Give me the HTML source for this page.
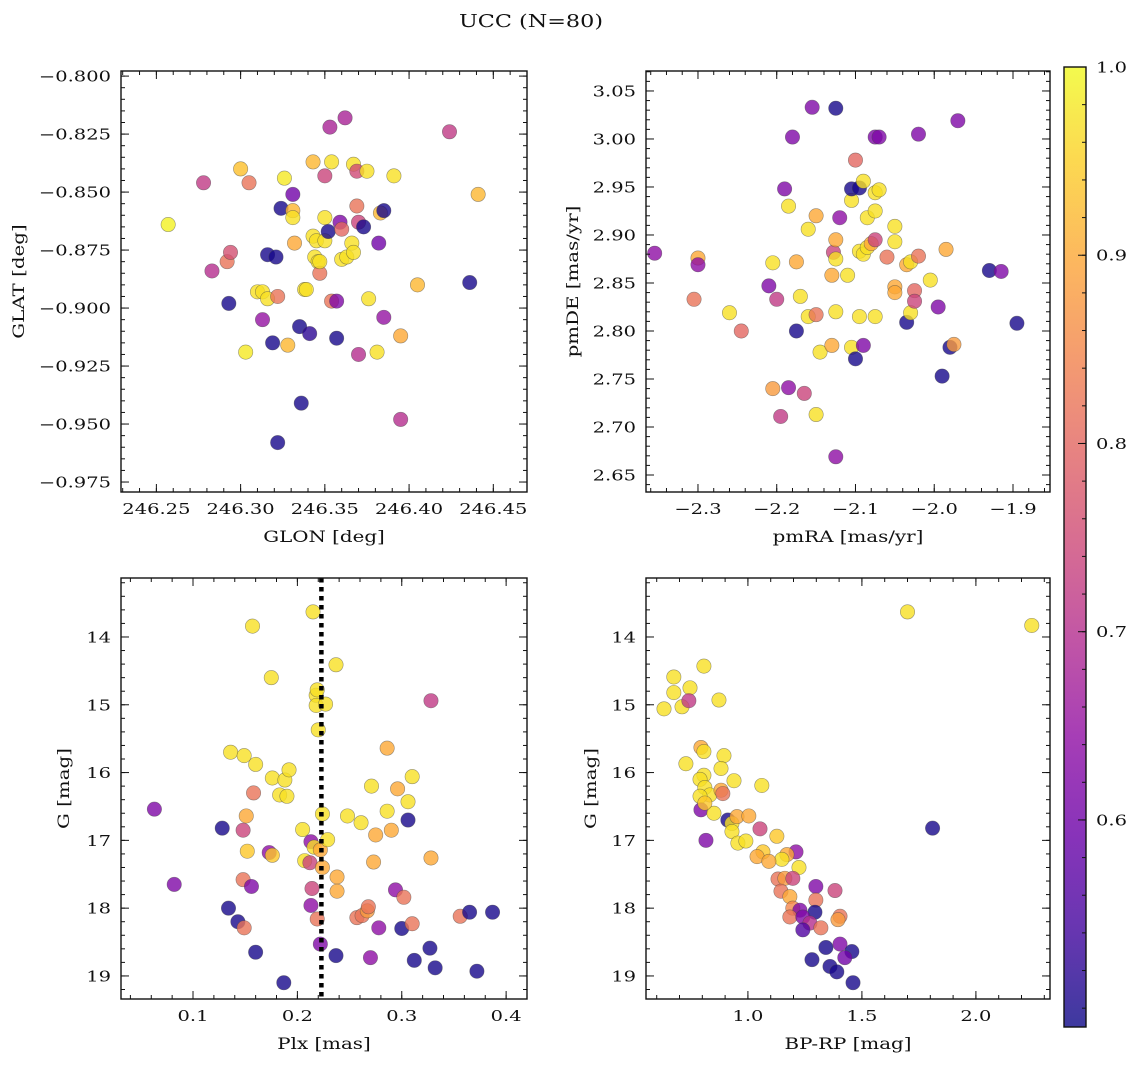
<!DOCTYPE html>
<html><head><meta charset="utf-8">
<style>
html,body{margin:0;padding:0;background:#fff;}
svg{display:block;font-family:"DejaVu Serif","Liberation Serif",serif;}
</style></head>
<body>
<svg id="fig" width="1136" height="1067" viewBox="0 0 1136 1067" xmlns="http://www.w3.org/2000/svg">
<rect width="1136" height="1067" fill="#fff"/>
<text transform="translate(531,27) scale(1.24,1)" font-size="18" text-anchor="middle" fill="#111">UCC (N=80)</text>
</svg>
<script>
// ---------- data ----------
const tlGlon=[246.257,246.278,246.283,246.292,246.294,246.293,246.300,246.305,246.303,246.310,246.313,246.316,246.313,246.316,246.321,246.319,246.322,246.324,246.326,246.328,246.331,246.331,246.331,246.332,246.335,246.338,246.339,246.343,246.341,246.336,246.322,246.343,246.344,246.345,246.346,246.347,246.347,246.350,246.350,246.352,246.350,246.353,246.354,246.354,246.357,246.357,246.359,246.360,246.362,246.360,246.363,246.366,246.367,246.367,246.369,246.369,246.370,246.373,246.370,246.375,246.376,246.382,246.381,246.383,246.385,246.385,246.391,246.395,246.395,246.405,246.424,246.436,246.441];
const tlGlat=[-0.864,-0.846,-0.884,-0.880,-0.876,-0.898,-0.840,-0.846,-0.919,-0.893,-0.893,-0.896,-0.905,-0.877,-0.878,-0.915,-0.895,-0.857,-0.844,-0.916,-0.858,-0.861,-0.851,-0.872,-0.908,-0.892,-0.892,-0.837,-0.911,-0.941,-0.958,-0.869,-0.878,-0.871,-0.880,-0.885,-0.880,-0.871,-0.861,-0.867,-0.843,-0.822,-0.837,-0.897,-0.897,-0.913,-0.863,-0.866,-0.818,-0.879,-0.878,-0.872,-0.876,-0.838,-0.856,-0.841,-0.863,-0.865,-0.920,-0.841,-0.896,-0.872,-0.919,-0.859,-0.858,-0.904,-0.843,-0.912,-0.948,-0.890,-0.824,-0.889,-0.851];
const tlProb=[0.99,0.72,0.70,0.82,0.76,0.50,0.93,0.82,0.98,0.97,0.97,0.97,0.65,0.50,0.50,0.50,0.82,0.50,0.98,0.92,0.92,0.97,0.60,0.90,0.50,0.97,0.97,0.92,0.52,0.50,0.50,0.97,0.97,0.97,0.97,0.82,0.97,0.97,0.97,0.50,0.74,0.68,0.97,0.82,0.62,0.50,0.62,0.80,0.68,0.97,0.97,0.97,0.97,0.97,0.82,0.75,0.74,0.50,0.70,0.97,0.97,0.60,0.97,0.92,0.50,0.65,0.97,0.90,0.70,0.92,0.72,0.50,0.92];

const trPmra=[-2.355,-2.300,-2.300,-2.305,-2.260,-2.245,-2.210,-2.205,-2.200,-2.205,-2.195,-2.190,-2.185,-2.185,-2.175,-2.180,-2.170,-2.175,-2.165,-2.160,-2.160,-2.155,-2.150,-2.150,-2.150,-2.145,-2.130,-2.130,-2.128,-2.125,-2.125,-2.125,-2.125,-2.125,-2.120,-2.110,-2.105,-2.105,-2.100,-2.105,-2.100,-2.095,-2.095,-2.095,-2.090,-2.090,-2.090,-2.085,-2.085,-2.080,-2.075,-2.075,-2.070,-2.075,-2.075,-2.075,-2.070,-2.060,-2.050,-2.050,-2.050,-2.050,-2.035,-2.035,-2.030,-2.030,-2.025,-2.025,-2.020,-2.020,-2.005,-1.995,-1.990,-1.985,-1.980,-1.975,-1.970,-1.930,-1.915,-1.895];
const trPmde=[2.881,2.876,2.869,2.833,2.819,2.800,2.847,2.871,2.833,2.740,2.711,2.948,2.741,2.930,2.872,3.002,2.836,2.800,2.735,2.815,2.906,3.033,2.920,2.817,2.713,2.778,2.858,2.785,2.882,2.895,2.875,2.820,2.669,3.032,2.918,2.858,2.936,2.783,2.771,2.948,2.978,2.949,2.883,2.815,2.956,2.880,2.785,2.918,2.887,2.891,2.895,3.002,3.002,2.944,2.925,2.815,2.947,2.877,2.909,2.893,2.846,2.840,2.869,2.809,2.872,2.819,2.842,2.831,2.878,3.005,2.853,2.825,2.753,2.885,2.783,2.786,3.019,2.863,2.862,2.808];
const trProb=[0.64,0.90,0.64,0.82,0.97,0.80,0.62,0.97,0.72,0.88,0.72,0.62,0.64,0.97,0.90,0.62,0.97,0.50,0.74,0.97,0.97,0.62,0.90,0.82,0.97,0.97,0.90,0.90,0.74,0.90,0.97,0.97,0.64,0.50,0.64,0.97,0.97,0.97,0.50,0.50,0.80,0.50,0.97,0.97,0.97,0.97,0.62,0.97,0.97,0.90,0.74,0.62,0.62,0.97,0.97,0.97,0.97,0.82,0.97,0.97,0.90,0.90,0.90,0.50,0.97,0.97,0.80,0.74,0.82,0.62,0.97,0.62,0.50,0.90,0.50,0.88,0.62,0.50,0.62,0.50];

const blPlx=[0.063,0.082,0.128,0.134,0.136,0.143,0.149,0.149,0.151,0.148,0.148,0.152,0.156,0.160,0.157,0.158,0.160,0.173,0.176,0.176,0.175,0.183,0.188,0.190,0.192,0.187,0.205,0.207,0.212,0.214,0.213,0.213,0.215,0.216,0.218,0.219,0.220,0.219,0.222,0.222,0.224,0.224,0.218,0.227,0.229,0.237,0.237,0.238,0.238,0.248,0.257,0.262,0.261,0.267,0.268,0.270,0.271,0.275,0.273,0.278,0.286,0.286,0.290,0.296,0.294,0.300,0.302,0.306,0.306,0.310,0.310,0.312,0.327,0.328,0.328,0.332,0.356,0.365,0.372,0.387];
const blG=[16.54,17.65,16.82,18.00,15.70,18.20,18.29,15.75,16.64,17.58,16.85,17.16,17.68,18.65,13.84,16.30,15.88,17.18,17.22,16.08,14.60,16.33,16.11,16.35,15.96,19.10,16.84,17.30,17.33,17.71,17.02,17.96,13.63,17.10,14.86,14.78,15.37,18.16,18.53,17.14,16.61,17.40,15.01,14.99,16.99,14.41,18.70,17.54,17.75,16.64,18.14,18.11,16.74,18.04,17.98,18.73,16.20,16.92,17.32,18.29,15.64,16.57,16.85,16.24,17.73,18.30,17.84,16.70,16.43,16.06,18.23,18.77,18.59,14.94,17.26,18.88,18.12,18.06,18.93,18.06];
const blProb=[0.62,0.62,0.50,0.50,0.97,0.50,0.82,0.97,0.90,0.82,0.74,0.94,0.62,0.50,0.97,0.82,0.97,0.64,0.94,0.97,0.97,0.97,0.97,0.97,0.97,0.50,0.97,0.97,0.74,0.74,0.64,0.64,0.97,0.97,0.97,0.97,0.97,0.82,0.62,0.90,0.97,0.90,0.97,0.97,0.97,0.97,0.50,0.90,0.90,0.97,0.82,0.82,0.97,0.88,0.82,0.64,0.97,0.90,0.90,0.64,0.90,0.97,0.90,0.90,0.64,0.50,0.82,0.50,0.97,0.97,0.82,0.50,0.50,0.72,0.90,0.50,0.82,0.50,0.50,0.50];

const brBprp=[0.632,0.675,0.675,0.746,0.711,0.741,0.807,0.873,0.728,0.794,0.807,0.895,0.882,0.939,1.061,0.807,0.790,0.811,0.833,0.790,0.794,0.851,0.811,0.882,0.890,0.816,0.912,0.930,0.952,1.004,0.930,0.956,0.991,1.053,1.127,1.066,1.040,1.211,1.171,1.149,1.092,1.224,1.132,1.162,1.197,1.298,1.382,1.145,1.184,1.298,1.197,1.228,1.294,1.184,1.241,1.272,1.241,1.320,1.404,1.395,1.342,1.404,1.456,1.425,1.281,1.360,1.390,1.461,1.810,1.700,2.245];
const brG=[15.06,14.59,14.82,14.75,15.03,14.94,14.43,14.93,15.87,15.63,15.69,15.75,15.94,16.12,16.19,16.04,16.10,16.22,16.33,16.35,16.55,16.60,16.45,16.26,16.31,17.00,16.70,16.75,16.65,16.64,16.87,17.04,17.01,16.83,16.94,17.17,17.24,17.17,17.21,17.28,17.31,17.40,17.57,17.56,17.56,17.68,17.74,17.75,17.83,17.88,18.00,18.03,18.06,18.13,18.13,18.22,18.32,18.29,18.12,18.17,18.58,18.53,18.64,18.73,18.76,18.86,18.94,19.10,16.82,13.63,13.83];
const brProb=[0.97,0.97,0.97,0.97,0.97,0.72,0.97,0.97,0.97,0.90,0.97,0.97,0.97,0.97,0.97,0.97,0.97,0.97,0.97,0.97,0.62,0.97,0.94,0.90,0.82,0.62,0.50,0.97,0.90,0.90,0.97,0.97,0.97,0.74,0.94,0.94,0.90,0.64,0.90,0.97,0.90,0.97,0.82,0.88,0.74,0.62,0.74,0.82,0.90,0.82,0.85,0.62,0.50,0.82,0.62,0.70,0.56,0.82,0.82,0.88,0.50,0.62,0.50,0.60,0.50,0.50,0.50,0.50,0.50,0.97,0.97];

const plxLine=0.223;
const cbTicks=[0.6,0.7,0.8,0.9,1.0];
const vmin=0.49, vmax=1.0;

// ---------- helpers ----------
const NS="http://www.w3.org/2000/svg";
const svg=document.getElementById('fig');
function mk(tag,attrs,parent){const e=document.createElementNS(NS,tag);for(const k in attrs)e.setAttribute(k,attrs[k]);(parent||svg).appendChild(e);return e;}
const TS=1.3, LS=1.24;
function txt(parent,x,y,str,size,anchor,sx,rot){
  const tr=`translate(${x},${y})`+(rot?` rotate(${rot})`:'')+` scale(${sx},1)`;
  const t=mk('text',{transform:tr,x:0,y:0,'font-size':size,'text-anchor':anchor,fill:'#111',stroke:'none'},parent);
  t.textContent=str;return t;
}
const stops=[[13,8,135],[65,4,157],[106,0,168],[143,13,164],[177,42,144],[204,71,120],[225,100,98],[242,132,75],[252,166,54],[252,206,37],[240,249,33]];
function plasma(v){let t=(v-vmin)/(vmax-vmin);t=Math.max(0,Math.min(1,t));const f=t*10;const i=Math.min(9,Math.floor(f));const r=f-i;const a=stops[i],b=stops[i+1];return `rgb(${Math.round(a[0]+(b[0]-a[0])*r)},${Math.round(a[1]+(b[1]-a[1])*r)},${Math.round(a[2]+(b[2]-a[2])*r)})`;}
function fmt(v,d){let s=v.toFixed(d);if(v<0)s='\u2212'+s.slice(1);return s;}

function panel(cfg){
  const {name,L,T,R,B,xmin,xmax,ymin,ymax,invertY,xMaj,xMin,yMaj,yMin,xd,yd,xlabel,ylabel,xs,ys,ps}=cfg;
  const g=mk('g',{});
  
  
  const sx=v=>L+(v-xmin)/(xmax-xmin)*(R-L);
  const sy=v=>invertY?T+(v-ymin)/(ymax-ymin)*(B-T):B-(v-ymin)/(ymax-ymin)*(B-T);
  const pts=mk('g',{},g);
  
  
  for(let i=0;i<xs.length;i++){
    const c=mk('circle',{cx:sx(xs[i]),cy:sy(ys[i]),r:7.2,fill:plasma(ps[i]),'fill-opacity':0.8,stroke:'rgba(70,70,70,0.55)','stroke-width':0.6},pts);
    
    
  }
  if(cfg.extra)cfg.extra(g,sx,sy);
  const ticks=mk('g',{stroke:'#111','stroke-width':1},g);
  
  
  const eps=1e-9;
  const step=(a,b,s,fn)=>{for(let v=Math.ceil((a-eps)/s)*s;v<=b+eps;v+=s)fn(v);};
  step(xmin,xmax,xMin,v=>{const x=sx(v);mk('line',{x1:x,x2:x,y1:B,y2:B-4},ticks);mk('line',{x1:x,x2:x,y1:T,y2:T+4},ticks);});
  step(xmin,xmax,xMaj,v=>{const x=sx(v);mk('line',{x1:x,x2:x,y1:B,y2:B-8},ticks);mk('line',{x1:x,x2:x,y1:T,y2:T+8},ticks);
    const t=txt(g,x,B+22,fmt(v,xd),15,'middle',TS);
    
    });
  step(ymin,ymax,yMin,v=>{const y=sy(v);mk('line',{x1:L,x2:L+4,y1:y,y2:y},ticks);mk('line',{x1:R,x2:R-4,y1:y,y2:y},ticks);});
  step(ymin,ymax,yMaj,v=>{const y=sy(v);mk('line',{x1:L,x2:L+8,y1:y,y2:y},ticks);mk('line',{x1:R,x2:R-8,y1:y,y2:y},ticks);
    const t=txt(g,L-10,y+5.5,fmt(v,yd),15,'end',TS);
    
    });
  const fr=mk('rect',{x:L,y:T,width:R-L,height:B-T,fill:'none',stroke:'#111','stroke-width':1.4},g);
  
  
  const xl=txt(g,(L+R)/2,B+50,xlabel,16,'middle',LS);
  
  
  const yl=txt(g,cfg.ylx,(T+B)/2,ylabel,16,'middle',LS,-90);
  
  
}

panel({name:'glon-glat-panel',L:121,T:71,R:527,B:492,xmin:246.229,xmax:246.470,ymin:-0.9793,ymax:-0.7978,xMaj:0.05,xMin:0.01,yMaj:0.025,yMin:0.005,xd:2,yd:3,xlabel:'GLON [deg]',ylabel:'GLAT [deg]',ylx:24,xs:tlGlon,ys:tlGlat,ps:tlProb});
panel({name:'pmra-pmde-panel',L:646,T:71,R:1050,B:492,xmin:-2.366,xmax:-1.853,ymin:2.6323,ymax:3.0708,xMaj:0.1,xMin:0.02,yMaj:0.05,yMin:0.01,xd:1,yd:2,xlabel:'pmRA [mas/yr]',ylabel:'pmDE [mas/yr]',ylx:578,xs:trPmra,ys:trPmde,ps:trProb});
panel({name:'plx-g-panel',L:121,T:578,R:527,B:999,xmin:0.031,xmax:0.420,ymin:13.13,ymax:19.34,invertY:true,xMaj:0.1,xMin:0.02,yMaj:1,yMin:0.2,xd:1,yd:0,xlabel:'Plx [mas]',ylabel:'G [mag]',ylx:69,xs:blPlx,ys:blG,ps:blProb,
  extra:(g,sx,sy)=>{const x=sx(plxLine);const l=mk('line',{x1:x,x2:x,y1:578,y2:999,stroke:'#000','stroke-width':4.5,'stroke-dasharray':'4.5,4.5'},g);
    
    }});
panel({name:'color-magnitude-panel',L:646,T:578,R:1050,B:999,xmin:0.553,xmax:2.325,ymin:13.13,ymax:19.34,invertY:true,xMaj:0.5,xMin:0.1,yMaj:1,yMin:0.2,xd:1,yd:0,xlabel:'BP-RP [mag]',ylabel:'G [mag]',ylx:596,xs:brBprp,ys:brG,ps:brProb});

// colorbar
(function(){
  const L=1064,R=1086,T=67,B=1027;
  const g=mk('g',{});
  
  
  const defs=mk('defs',{},g);
  const lg=mk('linearGradient',{id:'cbg',x1:0,y1:1,x2:0,y2:0},defs);
  for(let i=0;i<=20;i++){const v=vmin+(vmax-vmin)*i/20;mk('stop',{offset:(i/20),'stop-color':plasma(v),'stop-opacity':0.8},lg);}
  mk('rect',{x:L,y:T,width:R-L,height:B-T,fill:'url(#cbg)'},g);
  const sy=v=>B-(v-vmin)/(vmax-vmin)*(B-T);
  for(let v=0.5;v<=1.0001;v+=0.02){const y=sy(v);mk('line',{x1:R,x2:R-4,y1:y,y2:y,stroke:'#111','stroke-width':1},g);}
  cbTicks.forEach(v=>{const y=sy(v);mk('line',{x1:R,x2:R-8,y1:y,y2:y,stroke:'#111','stroke-width':1},g);
    const t=txt(g,R+10,y+5.5,v.toFixed(1),15,'start',TS);
    
    });
  mk('rect',{x:L,y:T,width:R-L,height:B-T,fill:'none',stroke:'#111','stroke-width':1.4},g);
})();
</script>
</body></html>
